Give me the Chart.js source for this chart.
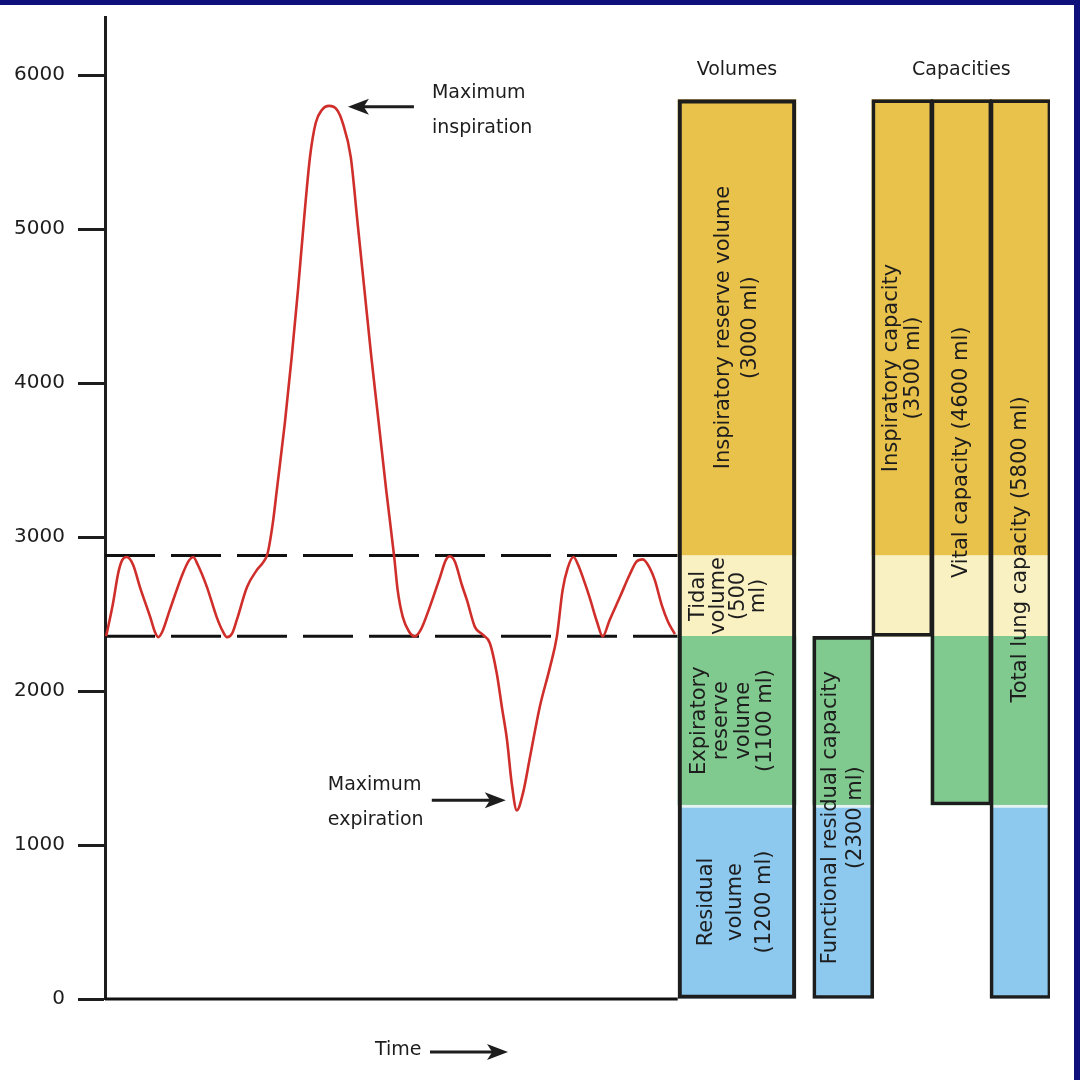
<!DOCTYPE html>
<html><head><meta charset="utf-8">
<script src="https://cdn.jsdelivr.net/npm/chart.js@4.4.1/dist/chart.umd.min.js"></script>
<style>
html,body{margin:0;padding:0;background:#fff;}
#wrap{position:relative;width:1080px;height:1080px;overflow:hidden;background:#fff;}
#c{position:absolute;left:0;top:0;}
.band{position:absolute;background:#10107c;}
</style></head><body>
<div id="wrap"><canvas id="c" width="1080" height="1080"></canvas>
<div class="band" style="left:0;top:0;width:1080px;height:5px"></div>
<div class="band" style="right:0;top:0;width:6px;height:1080px"></div>
</div>
<script>
// ---------------- DATA ----------------
const yTicks = [0, 1000, 2000, 3000, 4000, 5000, 6000];

// spirometer trace: time (arbitrary units) and lung volume (ml)
const timeT = [0.2,1.4,2.3,3.0,3.8,4.9,6.1,7.9,8.7,9.3,10.0,11.3,13.6,14.7,15.4,16.2,17.8,19.5,20.6,21.3,22.2,23.0,24.8,26.5,27.7,28.4,29.3,30.0,31.4,32.6,33.7,34.7,35.8,36.8,37.9,39.1,40.5,41.5,42.9,44.1,45.3,46.5,47.8,49.1,50.5,51.1,52.0,53.1,54.1,55.1,56.7,58.5,59.5,60.2,61.1,62.3,63.2,64.6,66.0,67.2,68.4,69.3,70.2,71.0,71.9,73.0,74.2,75.9,77.7,78.9,79.9,80.8,81.8,82.6,83.6,84.6,85.9,86.9,88.1,89.9,91.6,92.8,93.9,95.1,96.0,97.2,98.3,99.5];
const lungMl = [2355,2570,2765,2850,2870,2820,2675,2480,2385,2350,2385,2525,2765,2850,2870,2820,2675,2480,2385,2350,2375,2460,2675,2785,2840,2895,3090,3305,3740,4170,4605,5040,5470,5690,5775,5800,5775,5690,5470,5040,4605,4170,3740,3305,2870,2655,2480,2385,2355,2395,2545,2740,2850,2875,2840,2690,2590,2415,2365,2310,2115,1895,1680,1405,1225,1340,1570,1895,2155,2355,2655,2800,2870,2820,2720,2610,2450,2355,2460,2610,2755,2840,2855,2800,2720,2560,2450,2370];
const traceEndT = 100;

const volumeNames = ['Residual volume', 'Expiratory reserve volume', 'Tidal volume', 'Inspiratory reserve volume'];
const volumeDrawnMl = [1260, 1095, 525, 2960];
const volumeLabelMl = [1200, 1100, 500, 3000];

// capacities = sums of consecutive volumes (first..last volume index)
const capacityNames = ['Functional residual capacity', 'Inspiratory capacity', 'Vital capacity', 'Total lung capacity'];
const capacityLabelMl = [2300, 3500, 4600, 5800];
const capacityFirstVol = [0, 2, 1, 0];
const capacityLastVol = [1, 3, 3, 3];

// ---------------- LAYOUT / STYLE ----------------
const FONT = '"DejaVu Sans", sans-serif';
const INK = '#1d1d1d';
const volumeColors = ['#8dc9ef', '#80c98f', '#faf1c3', '#e9c24c'];
const slotVolumes = 10.7;               // column slots on the hidden column axis (0..16)
const slotCapacities = [12.5, 13.5, 14.5, 15.5];

const cum = [0];
volumeDrawnMl.forEach(v => cum.push(cum[cum.length - 1] + v));

const volumeLines = [
  ['Residual', 'volume', '(' + volumeLabelMl[0] + ' ml)'],
  ['Expiratory', 'reserve', 'volume', '(' + volumeLabelMl[1] + ' ml)'],
  ['Tidal', 'volume', '(' + volumeLabelMl[2], 'ml)'],
  ['Inspiratory reserve volume', '(' + volumeLabelMl[3] + ' ml)']
];
const volumeLineGap = [29, 22, 20, 27];
const volumeLineShift = [-1, -4, -8, 0];
const capacityLines = [
  ['Functional residual capacity', '(' + capacityLabelMl[0] + ' ml)'],
  ['Inspiratory capacity', '(' + capacityLabelMl[1] + ' ml)'],
  ['Vital capacity (' + capacityLabelMl[2] + ' ml)'],
  ['Total lung capacity (' + capacityLabelMl[3] + ' ml)']
];
const capacityLineGap = [25, 22, 22, 22];

// ---------------- DATASETS ----------------
const datasets = [];
// outlines (on top)
datasets.push({
  type: 'bar', xAxisID: 'xc', yAxisID: 'y', grouped: false, barThickness: 118,
  data: [{x: slotVolumes, y: [cum[0], cum[4]]}],
  backgroundColor: 'rgba(0,0,0,0)', borderColor: INK, borderWidth: 3.5, borderSkipped: false
});
datasets.push({
  type: 'bar', xAxisID: 'xc', yAxisID: 'y', grouped: false, barThickness: 61,
  data: capacityNames.map((n, c) => ({x: slotCapacities[c], y: [cum[capacityFirstVol[c]], cum[capacityLastVol[c] + 1]]})),
  backgroundColor: 'rgba(0,0,0,0)', borderColor: INK, borderWidth: 3, borderSkipped: false
});
// colour fills
volumeNames.forEach((name, k) => {
  const bw = k === 0 ? {top: 3, bottom: 0, left: 0, right: 0} : 0;
  datasets.push({
    type: 'bar', xAxisID: 'xc', yAxisID: 'y', grouped: false, barThickness: 118, label: name,
    data: [{x: slotVolumes, y: [cum[k], cum[k + 1]]}],
    backgroundColor: volumeColors[k], borderColor: '#e4f3f2', borderWidth: bw, borderSkipped: false
  });
  const capData = [];
  capacityNames.forEach((cn, c) => {
    if (k >= capacityFirstVol[c] && k <= capacityLastVol[c]) capData.push({x: slotCapacities[c], y: [cum[k], cum[k + 1]]});
  });
  datasets.push({
    type: 'bar', xAxisID: 'xc', yAxisID: 'y', grouped: false, barThickness: 61, label: name + ' (capacities)',
    data: capData,
    backgroundColor: volumeColors[k], borderColor: '#e4f3f2', borderWidth: bw, borderSkipped: false
  });
});
// trace
datasets.push({
  type: 'line', xAxisID: 'x', yAxisID: 'y', label: 'Lung volume',
  data: timeT.map((t, i) => ({x: t, y: lungMl[i]})),
  borderColor: '#cf2e2a', borderWidth: 2.6, pointRadius: 0, cubicInterpolationMode: 'monotone', clip: false
});
// tidal breathing limits (dashed)
[cum[3], cum[2]].forEach(level => {
  datasets.push({
    type: 'line', xAxisID: 'x', yAxisID: 'y',
    data: [{x: 0, y: level}, {x: traceEndT, y: level}],
    borderColor: '#111', borderWidth: 3, borderDash: [50, 16], pointRadius: 0, clip: false
  });
});
// time baseline
datasets.push({
  type: 'line', xAxisID: 'x', yAxisID: 'y',
  data: [{x: 0, y: 0}, {x: traceEndT, y: 0}],
  borderColor: '#111', borderWidth: 3, pointRadius: 0, clip: false
});

// ---------------- DRAW HELPERS ----------------
function vText(ctx, lines, cx, cy, gap) {
  ctx.save();
  ctx.translate(cx, cy);
  ctx.rotate(-Math.PI / 2);
  ctx.textAlign = 'center';
  ctx.textBaseline = 'middle';
  const n = lines.length;
  lines.forEach((s, i) => ctx.fillText(s, 0, (i - (n - 1) / 2) * gap));
  ctx.restore();
}
function arrow(ctx, x1, y1, x2, y2) {
  const a = Math.atan2(y2 - y1, x2 - x1), L = 21, H = 8;
  const ca = Math.cos(a), sa = Math.sin(a);
  ctx.beginPath();
  ctx.moveTo(x1, y1);
  ctx.lineTo(x2 - L * 0.7 * ca, y2 - L * 0.7 * sa);
  ctx.stroke();
  ctx.beginPath();
  ctx.moveTo(x2, y2);
  ctx.lineTo(x2 - L * ca + H * sa, y2 - L * sa - H * ca);
  ctx.lineTo(x2 - L * 0.75 * ca, y2 - L * 0.75 * sa);
  ctx.lineTo(x2 - L * ca - H * sa, y2 - L * sa + H * ca);
  ctx.closePath();
  ctx.fill();
}

const labelPlugin = {
  id: 'labels',
  afterDatasetsDraw(chart) {
    const ctx = chart.ctx, xs = chart.scales.x, xc = chart.scales.xc, ys = chart.scales.y;
    ctx.save();
    ctx.fillStyle = INK;
    ctx.strokeStyle = INK;
    ctx.lineWidth = 3;
    // labels inside the bars
    ctx.font = '21px ' + FONT;
    volumeLines.forEach((lines, k) => {
      vText(ctx, lines, xc.getPixelForValue(slotVolumes) + volumeLineShift[k], ys.getPixelForValue((cum[k] + cum[k + 1]) / 2), volumeLineGap[k]);
    });
    capacityLines.forEach((lines, c) => {
      const lo = cum[capacityFirstVol[c]], hi = cum[capacityLastVol[c] + 1];
      vText(ctx, lines, xc.getPixelForValue(slotCapacities[c]), ys.getPixelForValue((lo + hi) / 2), capacityLineGap[c]);
    });
    // headers
    ctx.font = '19px ' + FONT;
    ctx.textAlign = 'center';
    ctx.textBaseline = 'middle';
    ctx.fillText('Volumes', xc.getPixelForValue(slotVolumes), 70);
    ctx.fillText('Capacities', (xc.getPixelForValue(slotCapacities[1]) + xc.getPixelForValue(slotCapacities[3])) / 2, 70);
    // annotations
    const iMax = lungMl.indexOf(Math.max(...lungMl));
    const iMin = lungMl.indexOf(Math.min(...lungMl));
    const px = xs.getPixelForValue(timeT[iMax]), py = ys.getPixelForValue(lungMl[iMax]);
    const tx = xs.getPixelForValue(timeT[iMin]), ty = ys.getPixelForValue(lungMl[iMin]);
    ctx.font = '19px ' + FONT;
    ctx.textAlign = 'left';
    ctx.fillText('Maximum', px + 103, py - 13);
    ctx.fillText('inspiration', px + 103, py + 22);
    arrow(ctx, px + 85, py + 1, px + 19, py + 1);
    ctx.fillText('Maximum', tx - 189, ty - 25);
    ctx.fillText('expiration', tx - 189, ty + 10);
    arrow(ctx, tx - 85, ty - 10, tx - 11, ty - 10);
    ctx.fillText('Time', 375, 1050);
    arrow(ctx, 430, 1052, 508, 1052);
    ctx.restore();
  }
};

Chart.defaults.font.family = FONT;
new Chart(document.getElementById('c'), {
  type: 'bar',
  data: {datasets},
  options: {
    responsive: false,
    animation: false,
    devicePixelRatio: 1,
    layout: {padding: {left: 0, top: 17, right: 30, bottom: 81}},
    plugins: {legend: {display: false}, tooltip: {enabled: false}},
    scales: {
      x: {type: 'linear', axis: 'x', min: 0, max: 165, offset: false, display: false},
      xc: {type: 'linear', axis: 'x', min: 0, max: 16, offset: false, display: false},
      y: {
        type: 'linear', position: 'left', min: 0, max: 6377,
        afterBuildTicks: s => { s.ticks = yTicks.map(v => ({value: v})); },
        afterFit: s => { s.width = 105; s.paddingTop = 0; s.paddingBottom = 0; },
        ticks: {color: INK, font: {size: 20, family: FONT}, padding: 13, callback: v => String(v)},
        grid: {drawOnChartArea: false, drawTicks: true, tickLength: 27, tickWidth: 3, tickColor: INK},
        border: {display: true, width: 3, color: INK}
      }
    }
  },
  plugins: [labelPlugin]
});
</script>
</body></html>
